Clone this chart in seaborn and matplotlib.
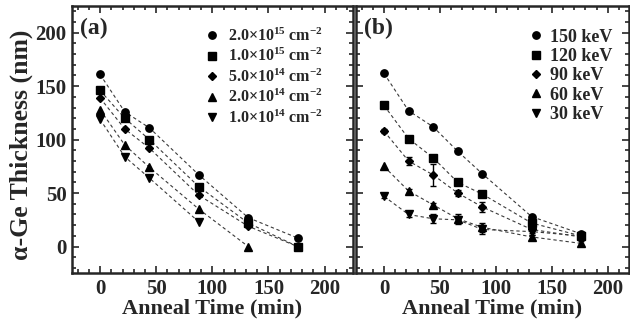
import matplotlib
matplotlib.use('Agg')
import matplotlib.pyplot as plt
from matplotlib.lines import Line2D
from matplotlib.ticker import MultipleLocator
import seaborn as sns
import pandas as pd
import numpy as np

nan = np.nan

# panel (a): thickness vs anneal time for several doses
time_a = [0, 22, 44, 88, 132, 176]
dose_labels = [r'2.0×10$^{15}$ cm$^{-2}$', r'1.0×10$^{15}$ cm$^{-2}$',
               r'5.0×10$^{14}$ cm$^{-2}$', r'2.0×10$^{14}$ cm$^{-2}$',
               r'1.0×10$^{14}$ cm$^{-2}$']
dose_2e15 = [161, 126, 111, 67, 27, 8]
dose_1e15 = [146, 120, 100, 56, 22, 0]
dose_5e14 = [139, 110, 92, 48, 19, 0]
dose_2e14 = [128, 95, 74, 35, 0, nan]
dose_1e14 = [119, 84, 64, 23, nan, nan]

# panel (b): thickness vs anneal time for several energies
time_b = [0, 22, 44, 66, 88, 132, 176]
energy_labels = ['150 keV', '120 keV', '90 keV', '60 keV', '30 keV']
e150 = [162, 127, 112, 89, 68, 28, 12]
e120 = [132, 101, 83, 60, 49, 22, 10]
e90 = [108, 80, 67, 50, 37, 16, 9]
e60 = [75, 52, 39, 26, 18, 9, 3]
e30 = [47, 30, 26, 25, 16, 14, 10]
err150 = [0, 0, 0, 0, 0, 0, 2]
err120 = [0, 0, 0, 0, 0, 0, 3]
err90 = [2, 4, 10, 3, 5, 3, 2]
err60 = [0, 2, 2, 4, 4, 2, 2]
err30 = [2, 2, 4, 4, 4, 3, 2]

markers = ['o', 's', 'D', '^', 'v']
msizes = [5.3, 5.3, 4.2, 5.5, 5.5]


def long_table(times, series, labels, errs=None):
    rows = []
    for i, (vals, lab) in enumerate(zip(series, labels)):
        for j, (t, v) in enumerate(zip(times, vals)):
            e = errs[i][j] if errs is not None else 0
            rows.append({'time': t, 'thick': v, 'err': e, 'series': lab})
    return pd.DataFrame(rows).dropna()


def draw_panel(ax, df, labels, tag, leg_anchor, leg_size, leg_space, leg_pad):
    # dashed connecting lines
    sns.lineplot(data=df, x='time', y='thick', hue='series', hue_order=labels,
                 palette=['#3a3a3a'] * len(labels), ax=ax, legend=False,
                 linewidth=0.8, dashes=False, linestyle=(0, (3, 2.5)),
                 sort=True, estimator=None)
    # error bars
    for lab in labels:
        sub = df[df['series'] == lab]
        sub = sub[sub['err'] > 0]
        if len(sub):
            ax.errorbar(sub['time'], sub['thick'], yerr=sub['err'], fmt='none',
                        ecolor='black', elinewidth=1.0, capsize=2, capthick=1.0)
    # markers
    for lab, m, s in zip(labels, markers, msizes):
        sub = df[df['series'] == lab]
        ax.plot(sub['time'], sub['thick'], linestyle='none', marker=m,
                markersize=s, color='black', zorder=5)

    handles = [Line2D([], [], linestyle='none', marker=m, markersize=s,
                      color='black') for m, s in zip(markers, msizes)]
    ax.legend(handles, labels, loc='upper right', bbox_to_anchor=leg_anchor,
              frameon=False, fontsize=leg_size, handlelength=0.8,
              handletextpad=leg_pad, labelspacing=leg_space, borderaxespad=0,
              borderpad=0)

    ax.text(0.03, 0.955, tag, transform=ax.transAxes, ha='left', va='top',
            fontsize=17, fontweight='bold')

    ax.set_ylim(-25, 225)
    ax.xaxis.set_major_locator(MultipleLocator(50))
    ax.xaxis.set_minor_locator(MultipleLocator(10))
    ax.yaxis.set_major_locator(MultipleLocator(50))
    ax.yaxis.set_minor_locator(MultipleLocator(10))
    ax.tick_params(which='both', direction='in', top=True, right=True,
                   width=1.2, labelsize=15, pad=4)
    ax.tick_params(which='major', length=5)
    ax.tick_params(which='minor', length=3)
    for sp in ax.spines.values():
        sp.set_linewidth(1.8)
    ax.set_xlabel('Anneal Time (min)', fontsize=16, fontweight='bold', labelpad=0)


sns.set_style('ticks')
plt.rcParams['font.family'] = ['Liberation Serif', 'DejaVu Serif']
plt.rcParams['font.weight'] = 'bold'
plt.rcParams['mathtext.default'] = 'regular'

fig = plt.figure(figsize=(6.3, 3.2), dpi=100)
ax_a = fig.add_axes([72 / 630, 1 - 273.3 / 320, (352.7 - 72) / 630, 267.3 / 320])
ax_b = fig.add_axes([356 / 630, 1 - 273.3 / 320, (629 - 356) / 630, 267.3 / 320])

df_a = long_table(time_a, [dose_2e15, dose_1e15, dose_5e14, dose_2e14, dose_1e14],
                  dose_labels)
df_b = long_table(time_b, [e150, e120, e90, e60, e30], energy_labels,
                  [err150, err120, err90, err60, err30])

draw_panel(ax_a, df_a, dose_labels, '(a)', (0.894, 0.92), 11.5, 0.2, 0.6)
draw_panel(ax_b, df_b, energy_labels, '(b)', (0.938, 0.915), 13, 0.13, 0.35)

ax_a.set_xlim(-25, 225)
ax_b.set_xlim(-25, 219)
ax_a.set_ylabel('α-Ge Thickness (nm)', fontsize=18.5, fontweight='bold')
ax_a.yaxis.set_label_coords(-0.14, 0.48)
ax_b.set_ylabel('')
ax_b.tick_params(labelleft=False)

fig.savefig('out.png', dpi=100)
